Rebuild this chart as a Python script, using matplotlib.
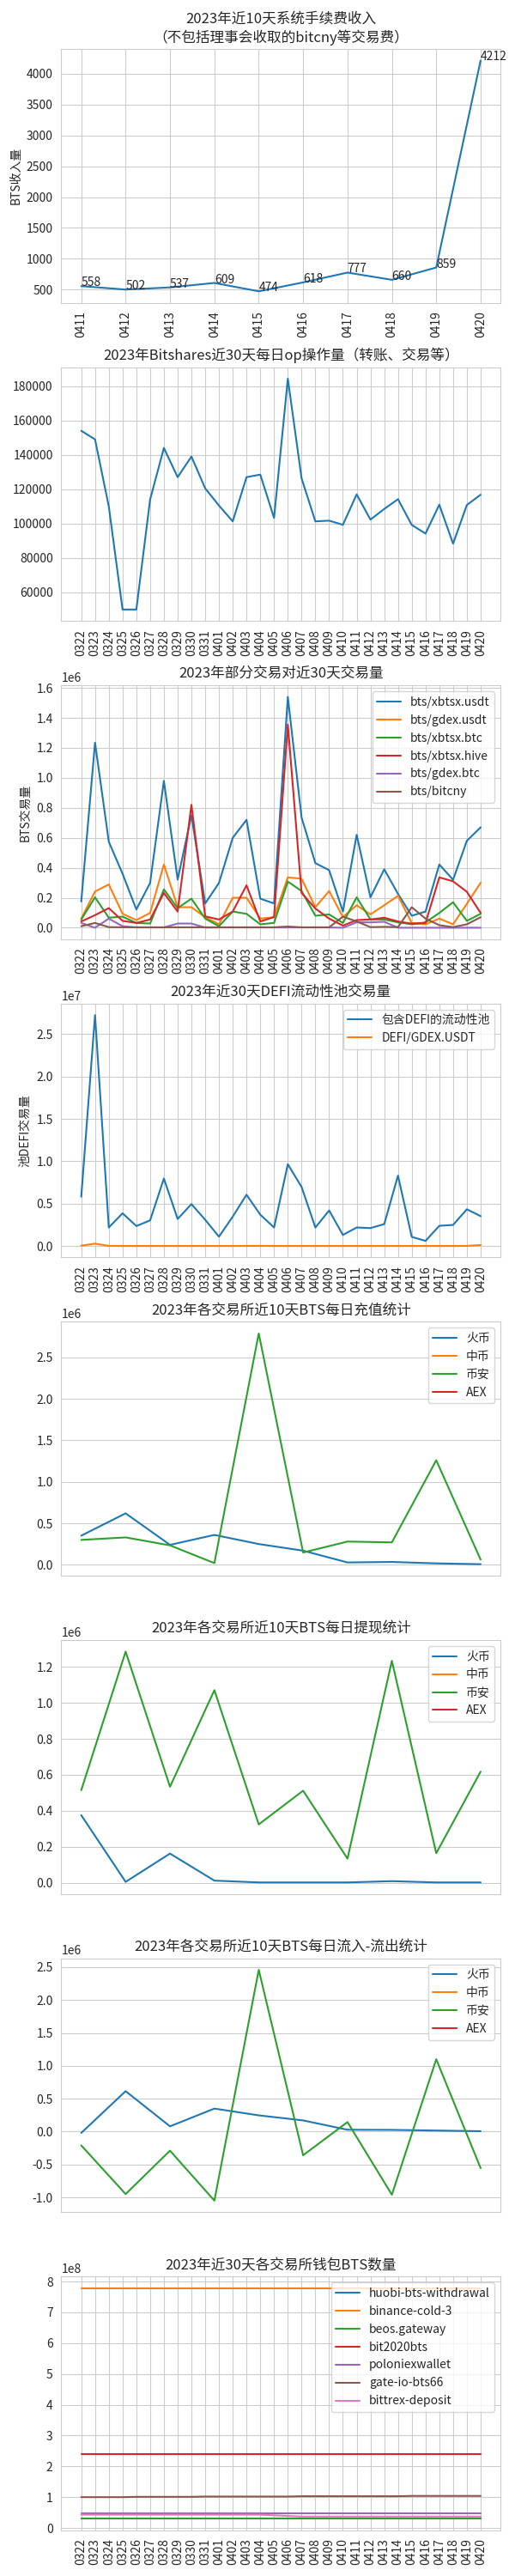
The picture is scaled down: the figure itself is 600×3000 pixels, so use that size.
import numpy as np
import matplotlib
matplotlib.use('Agg')
import matplotlib.pyplot as plt
import seaborn as sns

sns.set_style('whitegrid')
plt.rcParams['font.family'] = ['Noto Sans CJK SC', 'DejaVu Sans']
plt.rcParams['axes.unicode_minus'] = False

# 近10天 / 近30天日期
days10 = ['0411', '0412', '0413', '0414', '0415', '0416', '0417', '0418', '0419', '0420']
days30 = ['0322', '0323', '0324', '0325', '0326', '0327', '0328', '0329', '0330', '0331',
          '0401', '0402', '0403', '0404', '0405', '0406', '0407', '0408', '0409', '0410',
          '0411', '0412', '0413', '0414', '0415', '0416', '0417', '0418', '0419', '0420']

# 系统手续费收入
fee = [558, 502, 537, 609, 474, 618, 777, 660, 859, 4212]

# 每日op操作量
ops = [154000, 149000, 110000, 50000, 50000, 114000, 144000, 127000, 139000, 120500,
       110500, 101300, 127000, 128500, 103300, 184300, 126300, 101300, 101700, 99300,
       117000, 102300, 108500, 114200, 99200, 94200, 111000, 88300, 110800, 116800]

# 交易对交易量
pair_names = ['bts/xbtsx.usdt', 'bts/gdex.usdt', 'bts/xbtsx.btc', 'bts/xbtsx.hive', 'bts/gdex.btc', 'bts/bitcny']
xbtsx_usdt = [175e3, 1235e3, 574e3, 360e3, 122e3, 299e3, 980e3, 321e3, 750e3, 162e3,
              299e3, 600e3, 720e3, 194e3, 162e3, 1540e3, 735e3, 431e3, 384e3, 108e3,
              620e3, 203e3, 390e3, 226e3, 80e3, 108e3, 422e3, 320e3, 580e3, 670e3]
gdex_usdt = [61e3, 242e3, 289e3, 93e3, 51e3, 99e3, 422e3, 137e3, 137e3, 70e3,
             23e3, 200e3, 200e3, 61e3, 70e3, 336e3, 327e3, 137e3, 245e3, 71e3,
             150e3, 89e3, 150e3, 213e3, 32e3, 23e3, 61e3, 23e3, 160e3, 300e3]
xbtsx_btc = [55e3, 203e3, 67e3, 74e3, 32e3, 28e3, 256e3, 131e3, 194e3, 61e3,
             10e3, 108e3, 93e3, 23e3, 32e3, 308e3, 245e3, 80e3, 89e3, 32e3,
             203e3, 55e3, 55e3, 36e3, 23e3, 36e3, 99e3, 170e3, 46e3, 93e3]
xbtsx_hive = [42e3, 84e3, 131e3, 46e3, 32e3, 55e3, 232e3, 108e3, 820e3, 76e3,
              55e3, 108e3, 283e3, 42e3, 71e3, 1356e3, 232e3, 128e3, 61e3, 14e3,
              51e3, 55e3, 67e3, 42e3, 27e3, 32e3, 336e3, 310e3, 240e3, 99e3]
gdex_btc = [32e3, 0, 61e3, 10e3, 2e3, 2e3, 2e3, 28e3, 28e3, 1e3,
            2e3, 2e3, 2e3, 2e3, 2e3, 2e3, 2e3, 2e3, 2e3, 0,
            36e3, 36e3, 40e3, 0, 0, 0, 0, 0, 0, 0]
bitcny = [10e3, 32e3, 4e3, 3e3, 3e3, 3e3, 3e3, 3e3, 3e3, 3e3,
          3e3, 3e3, 3e3, 3e3, 3e3, 8e3, 3e3, 3e3, 3e3, 74e3,
          42e3, 4e3, 6e3, 4e3, 137e3, 61e3, 17e3, 4e3, 23e3, 70e3]

# DEFI流动性池交易量
defi_pool = [5.82e6, 27.25e6, 2.19e6, 3.87e6, 2.36e6, 3.03e6, 7.97e6, 3.2e6, 4.95e6, 3.1e6,
             1.11e6, 3.47e6, 6.06e6, 3.7e6, 2.19e6, 9.66e6, 6.97e6, 2.19e6, 4.2e6, 1.31e6,
             2.19e6, 2.12e6, 2.59e6, 8.31e6, 1.08e6, 0.61e6, 2.39e6, 2.49e6, 4.34e6, 3.53e6]
defi_gdex = [0.05e6, 0.28e6, 0.02e6, 0.01e6, 0.01e6, 0.01e6, 0.01e6, 0.01e6, 0.01e6, 0.01e6,
             0.01e6, 0.01e6, 0.02e6, 0.02e6, 0.01e6, 0.01e6, 0.01e6, 0.01e6, 0.01e6, 0.01e6,
             0.01e6, 0.01e6, 0.01e6, 0.01e6, 0.01e6, 0.01e6, 0.01e6, 0.01e6, 0.02e6, 0.12e6]

# 交易所充值 / 提现 / 净流入
exchanges = ['火币', '中币', '币安', 'AEX']
dep_huobi = [0.351e6, 0.62e6, 0.24e6, 0.36e6, 0.25e6, 0.17e6, 0.028e6, 0.034e6, 0.017e6, 0.007e6]
dep_binance = [0.30e6, 0.33e6, 0.234e6, 0.02e6, 2.79e6, 0.148e6, 0.28e6, 0.27e6, 1.26e6, 0.062e6]
wd_huobi = [0.376e6, 0.006e6, 0.163e6, 0.013e6, 0.003e6, 0.003e6, 0.003e6, 0.01e6, 0.003e6, 0.003e6]
wd_binance = [0.515e6, 1.284e6, 0.534e6, 1.07e6, 0.325e6, 0.512e6, 0.135e6, 1.233e6, 0.165e6, 0.618e6]
net_huobi = [-0.02e6, 0.615e6, 0.08e6, 0.35e6, 0.247e6, 0.17e6, 0.028e6, 0.026e6, 0.016e6, 0.006e6]
net_binance = [-0.21e6, -0.95e6, -0.29e6, -1.05e6, 2.46e6, -0.36e6, 0.145e6, -0.96e6, 1.1e6, -0.555e6]

# 交易所钱包BTS数量
wallet_names = ['huobi-bts-withdrawal', 'binance-cold-3', 'beos.gateway', 'bit2020bts',
                'poloniexwallet', 'gate-io-bts66', 'bittrex-deposit']
w_huobi = [0.305e8] * 30
w_binance = [7.79e8] * 30
w_beos = [0.295e8] * 30
w_bit2020 = [2.41e8] * 30
w_polo = [0.47e8] * 30
w_gate = [1.00e8, 1.00e8, 1.00e8, 1.00e8, 1.01e8, 1.01e8, 1.01e8, 1.01e8, 1.01e8, 1.02e8,
          1.02e8, 1.02e8, 1.02e8, 1.02e8, 1.02e8, 1.02e8, 1.03e8, 1.03e8, 1.03e8, 1.03e8,
          1.03e8, 1.03e8, 1.03e8, 1.03e8, 1.04e8, 1.04e8, 1.04e8, 1.04e8, 1.04e8, 1.04e8]
w_bittrex = [0.43e8] * 14 + [0.41e8, 0.39e8, 0.37e8] + [0.37e8] * 13


fig, axes = plt.subplots(8, 1, figsize=(6, 30))
plt.subplots_adjust(left=0.119, right=0.972, top=0.981, bottom=0.0177, hspace=0.2534)

# 1 手续费
ax = axes[0]
ax.plot(days10, fee)
for i, v in enumerate(fee):
    ax.text(i, v, str(v))
ax.set_title('2023年近10天系统手续费收入\n（不包括理事会收取的bitcny等交易费）')
ax.set_ylabel('BTS收入量')
ax.tick_params(axis='x', rotation=90)

# 2 op操作量
ax = axes[1]
ax.plot(days30, ops)
ax.set_title('2023年Bitshares近30天每日op操作量（转账、交易等）')
ax.tick_params(axis='x', rotation=90)

# 3 交易对
ax = axes[2]
for name, vals in zip(pair_names, [xbtsx_usdt, gdex_usdt, xbtsx_btc, xbtsx_hive, gdex_btc, bitcny]):
    ax.plot(days30, vals, label=name)
ax.set_title('2023年部分交易对近30天交易量')
ax.set_ylabel('BTS交易量')
ax.legend(loc='upper right')
ax.tick_params(axis='x', rotation=90)

# 4 DEFI
ax = axes[3]
ax.plot(days30, defi_pool, label='包含DEFI的流动性池')
ax.plot(days30, defi_gdex, label='DEFI/GDEX.USDT')
ax.set_title('2023年近30天DEFI流动性池交易量')
ax.set_ylabel('池DEFI交易量')
ax.legend(loc='upper right')
ax.tick_params(axis='x', rotation=90)

# 5-7 交易所
for ax, title, hb, bn in [
        (axes[4], '2023年各交易所近10天BTS每日充值统计', dep_huobi, dep_binance),
        (axes[5], '2023年各交易所近10天BTS每日提现统计', wd_huobi, wd_binance),
        (axes[6], '2023年各交易所近10天BTS每日流入-流出统计', net_huobi, net_binance)]:
    ax.plot(range(len(hb)), hb, label=exchanges[0])
    ax.plot([], [], label=exchanges[1])
    ax.plot(range(len(bn)), bn, label=exchanges[2])
    ax.plot([], [], label=exchanges[3])
    ax.set_xticks([])
    ax.set_title(title)
    ax.legend(loc='upper right')

# 8 钱包
ax = axes[7]
for name, vals in zip(wallet_names, [w_huobi, w_binance, w_beos, w_bit2020, w_polo, w_gate, w_bittrex]):
    ax.plot(days30, vals, label=name)
ax.set_title('2023年近30天各交易所钱包BTS数量')
ax.legend(loc='upper right')
ax.tick_params(axis='x', rotation=90)

plt.savefig('out.png', dpi=100)
